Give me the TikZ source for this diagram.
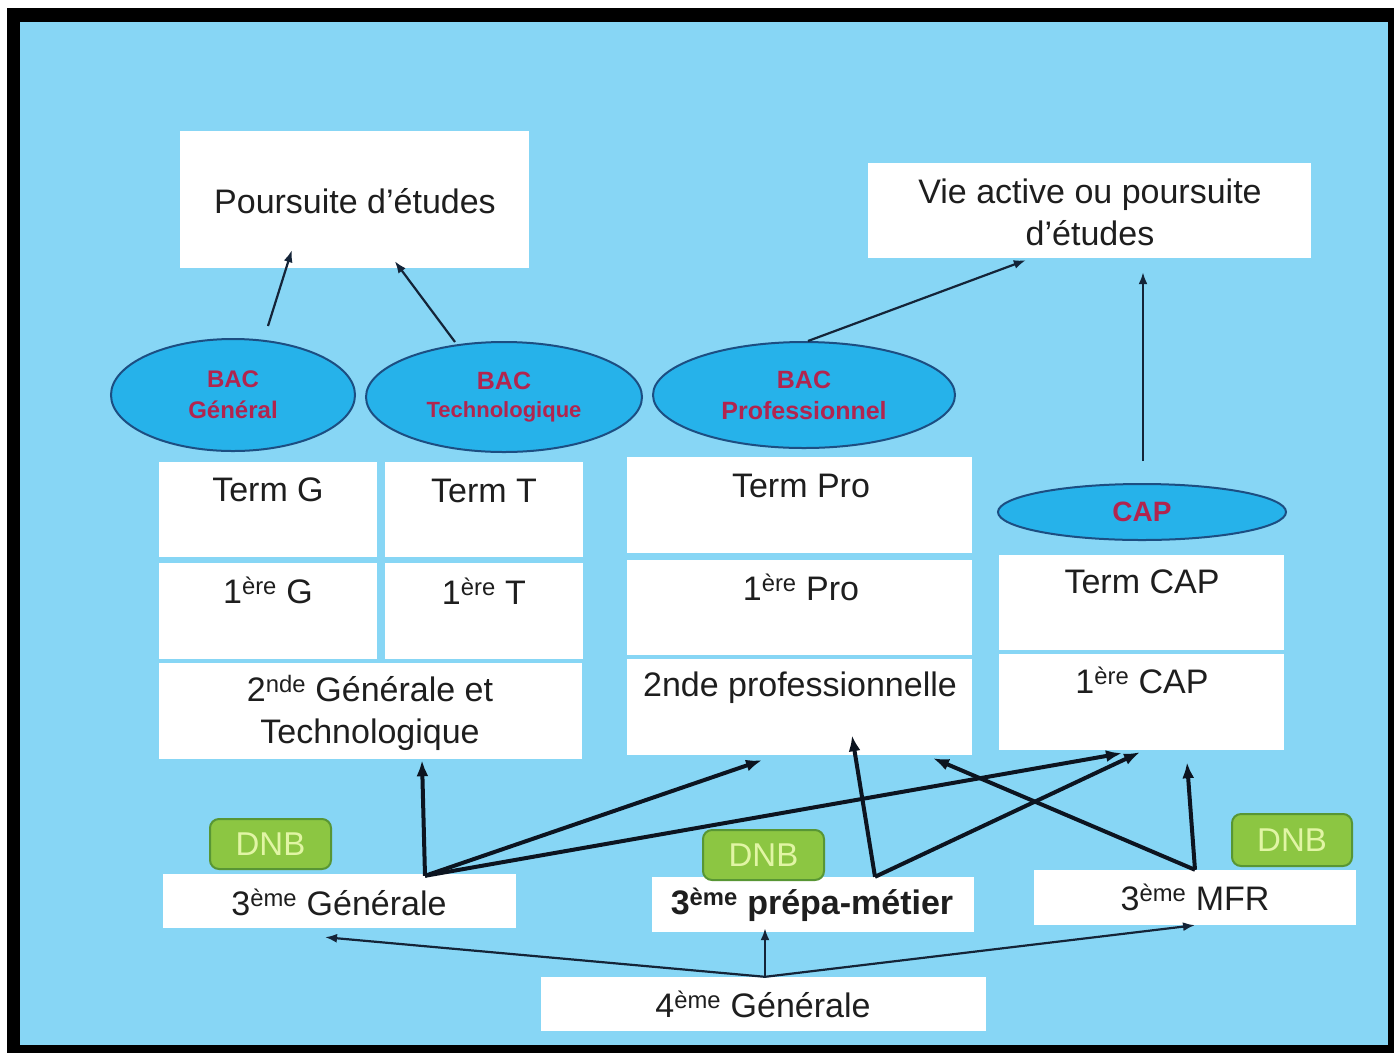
\documentclass[tikz,border=0pt]{standalone}
\usepackage{fontspec}
\setmainfont{Liberation Sans}
\usetikzlibrary{shapes.geometric,fit,calc,arrows.meta}
\definecolor{bgblue}{RGB}{135,214,245}
\definecolor{ellfill}{RGB}{38,178,234}
\definecolor{ellline}{RGB}{28,78,130}
\definecolor{bactxt}{RGB}{178,36,78}
\definecolor{dnbfill}{RGB}{140,198,66}
\definecolor{dnbline}{RGB}{88,150,52}
\definecolor{dnbtxt}{RGB}{225,245,165}
\definecolor{txt}{RGB}{30,30,30}
\definecolor{arrowc}{RGB}{20,36,56}
\definecolor{thickc}{RGB}{12,20,32}
\begin{document}
\begin{tikzpicture}[x=1pt,y=-1pt,
  box/.style={fill=white, draw=none, inner sep=0pt},
  lbl/.style={text=txt, font=\fontsize{34}{42}\selectfont, align=center, inner sep=0pt},
  bac/.style={ellipse, fill=ellfill, draw=ellline, line width=2pt, inner sep=0pt, text=bactxt, align=center},
  dnb/.style={rounded corners=9pt, fill=dnbfill, draw=dnbline, line width=2pt, text=dnbtxt, font=\fontsize{33}{38}\selectfont, inner sep=0pt},
  thinarrow/.style={-{Latex[length=12pt,width=9pt]}, line width=2.2pt, draw=arrowc},
  thickarrow/.style={-{Latex[length=16pt,width=12pt]}, line width=4pt, draw=thickc},
]
\useasboundingbox (0,0) rectangle (1394,1053);
\fill[white] (0,0) rectangle (1394,1053);
\fill[black] (7,8) rectangle (1394,1053);
\fill[bgblue] (20,22) rectangle (1388,1045);

% top boxes
\node[box, fit={(180,131) (529,268)}] (pours) {};
\node[lbl] (pours-l) at (355,201) {Poursuite d’études};
\node[box, fit={(868,163) (1311,258)}] (vie) {};
\node[lbl] (vie-l) at (1090,212) {Vie active ou poursuite\\d’études};

% general / techno column
\node[box, fit={(159,462) (377,557)}] (termG) {};
\node[lbl] (termG-l) at (268,490) {Term G};
\node[box, fit={(385,462) (583,557)}] (termT) {};
\node[lbl] (termT-l) at (484,491) {Term T};
\node[box, fit={(159,563) (377,659)}] (premG) {};
\node[lbl] (premG-l) at (268,590) {1\textsuperscript{ère} G};
\node[box, fit={(385,563) (583,659)}] (premT) {};
\node[lbl] (premT-l) at (484,591) {1\textsuperscript{ère} T};
\node[box, fit={(159,663) (582,759)}] (gt2) {};
\node[lbl] (gt2-l) at (370,713) {2\textsuperscript{nde} Générale et\\Technologique};

% pro column
\node[box, fit={(627,457) (972,553)}] (termP) {};
\node[lbl] (termP-l) at (801,486) {Term Pro};
\node[box, fit={(627,560) (972,655)}] (premP) {};
\node[lbl] (premP-l) at (801,587) {1\textsuperscript{ère} Pro};
\node[box, fit={(627,659) (972,755)}] (pro2) {};
\node[lbl] (pro2-l) at (800,688) {2nde professionnelle};

% CAP column
\node[box, fit={(999,555) (1284,650)}] (termC) {};
\node[lbl] (termC-l) at (1142,582) {Term CAP};
\node[box, fit={(999,654) (1284,750)}] (cap1) {};
\node[lbl] (cap1-l) at (1142,680) {1\textsuperscript{ère} CAP};

% ellipses
\node[bac, minimum width=244, minimum height=112, font=\fontsize{24}{31}\selectfont\bfseries] (bacG) at (233,395)
  {BAC\\Général};
\node[bac, minimum width=276, minimum height=110, font=\fontsize{22}{28}\selectfont\bfseries] (bacT) at (504,397)
  {{\fontsize{25}{28}\selectfont BAC}\\Technologique};
\node[bac, minimum width=302, minimum height=106, font=\fontsize{25}{31}\selectfont\bfseries] (bacP) at (804,395)
  {BAC\\Professionnel};
\node[bac, minimum width=288, minimum height=56, font=\fontsize{28}{32}\selectfont\bfseries] (cap) at (1142,512)
  {CAP};

% bottom boxes
\node[box, fit={(163,874) (516,928)}] (gen3) {};
\node[lbl] (gen3-l) at (339,902) {3\textsuperscript{ème} Générale};
\node[box, fit={(652,877) (974,932)}] (prep) {};
\node[lbl, font=\fontsize{34}{42}\selectfont\bfseries] (prep-l) at (812,905) {3\textsuperscript{ème} prépa-métier};
\node[box, fit={(1034,870) (1356,925)}] (mfr) {};
\node[lbl] (mfr-l) at (1195,897) {3\textsuperscript{ème} MFR};
\node[box, fit={(541,977) (986,1031)}] (g4) {};
\node[lbl] (g4-l) at (763,1004) {4\textsuperscript{ème} Générale};

% DNB badges
\node[dnb, minimum width=121, minimum height=50] (dnb1) at (270.5,844) {DNB};
\node[dnb, minimum width=121, minimum height=50] (dnb2) at (763.5,855) {DNB};
\node[dnb, minimum width=120, minimum height=52] (dnb3) at (1292,840) {DNB};

% thin arrows (upper)
\draw[thinarrow] ($(bacG.north)+(35,-12)$) -- ($(pours.south west)+(112,-18)$);
\draw[thinarrow] ($(bacT.north)+(-49,1)$) -- ($(pours.south west)+(215,-7)$);
\draw[thinarrow] ($(bacP.north)+(4,0)$) -- ($(vie.south west)+(158,2)$);
\draw[thinarrow] ($(cap.north)+(1,-22)$) -- ($(vie.south)+(53.5,14)$);

% thin arrows from 4eme
\draw[thinarrow] ($(g4.north)+(1.5,0)$) -- ($(gen3.south)+(-14.5,9)$);
\draw[thinarrow] ($(g4.north)+(1.5,0)$) -- ($(prep.south)+(-48,-4)$);
\draw[thinarrow] ($(g4.north)+(1.5,0)$) -- ($(mfr.south)+(0,0)$);

% thick arrows
\draw[thickarrow] ($(gen3.north)+(85.5,2)$) -- ($(gt2.south)+(51.5,1)$);
\draw[thickarrow] ($(gen3.north)+(85.5,2)$) -- ($(pro2.south)+(-37.5,5)$);
\draw[thickarrow] ($(gen3.north)+(85.5,2)$) -- ($(cap1.south)+(-19.5,3)$);
\draw[thickarrow] ($(prep.north)+(62,0)$) -- ($(pro2.south)+(52.5,-20)$);
\draw[thickarrow] ($(prep.north)+(62,0)$) -- ($(cap1.south)+(-1.5,2)$);
\draw[thickarrow] ($(mfr.north)+(0,0)$) -- ($(pro2.south)+(133.5,3)$);
\draw[thickarrow] ($(mfr.north)+(0,0)$) -- ($(cap1.south)+(45.5,12)$);
\end{tikzpicture}
\end{document}
